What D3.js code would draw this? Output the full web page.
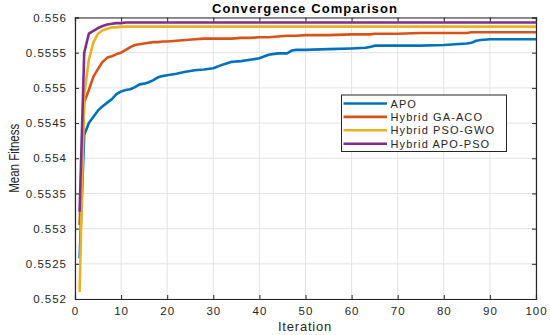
<!DOCTYPE html>
<html>
<head>
<meta charset="utf-8">
<script src="https://cdn.jsdelivr.net/npm/d3@7"></script>
<style>
  body { margin: 0; background: #fff; }
  svg { font-family: "Liberation Sans", Arial, sans-serif; }
</style>
</head>
<body>
<div id="container"></div>
<script>
// <---------data-------->
let iters = [1,2,3,4,5,6,7,8,9,10,11,12,13,14,15,16,17,18,19,20,22,24,26,28,30,32,34,36,38,40,42,44,46,47,48,50,55,60,63,64,65,70,75,80,85,86,87,88,90,95,100];

let apo = [0.55258,0.55433,0.55450,0.55459,0.55468,0.55474,0.55479,0.55484,0.55491,0.55495,0.55497,0.55498,0.55501,0.55505,0.55506,0.55508,0.55511,0.55515,0.55517,0.55518,
  0.55520,0.55523,0.55525,0.55526,0.55528,0.55533,0.55537,0.55538,0.55540,0.55542,0.55547,0.55549,0.55549,0.55553,0.55554,0.55554,0.55555,0.55556,0.55557,0.55558,
  0.55560,0.55560,0.55560,0.55561,0.55563,0.55564,0.55567,0.55568,0.55569,0.55569,0.55569];

let gaAco = [0.55305,0.55480,0.55497,0.55516,0.55527,0.55537,0.55543,0.55545,0.55548,0.55550,0.55554,0.55558,0.55561,0.55562,0.55563,0.55564,0.55565,0.55565,0.55566,0.55566,
  0.55567,0.55568,0.55569,0.55570,0.55570,0.55570,0.55570,0.55571,0.55571,0.55572,0.55572,0.55573,0.55574,0.55574,0.55574,0.55575,0.55575,0.55576,0.55576,0.55576,
  0.55577,0.55577,0.55578,0.55578,0.55578,0.55579,0.55579,0.55579,0.55579,0.55579,0.55579];

let psoGwo = [0.55210,0.55490,0.55540,0.55565,0.55577,0.55582,0.55584,0.55586,0.55586,0.55587,0.55587,0.55587,0.55587,0.55587,0.55587,0.55587,0.55587,0.55587,0.55587,0.55587,
  0.55587,0.55587,0.55587,0.55587,0.55587,0.55587,0.55587,0.55587,0.55587,0.55587,0.55587,0.55587,0.55587,0.55587,0.55587,0.55587,0.55587,0.55587,0.55587,0.55587,
  0.55587,0.55587,0.55587,0.55587,0.55587,0.55587,0.55587,0.55587,0.55587,0.55587,0.55587];

let apoPso = [0.55324,0.55550,0.55577,0.55581,0.55585,0.55588,0.55590,0.55591,0.55592,0.55592,0.55593,0.55593,0.55593,0.55593,0.55593,0.55593,0.55593,0.55593,0.55593,0.55593,
  0.55593,0.55593,0.55593,0.55593,0.55593,0.55593,0.55593,0.55593,0.55593,0.55593,0.55593,0.55593,0.55593,0.55593,0.55593,0.55593,0.55593,0.55593,0.55593,0.55593,
  0.55593,0.55593,0.55593,0.55593,0.55593,0.55593,0.55593,0.55593,0.55593,0.55593,0.55593];

let names = ["APO", "Hybrid GA-ACO", "Hybrid PSO-GWO", "Hybrid APO-PSO"];
let colors = ["#0072BD", "#D95319", "#EDB120", "#7E2F8E"];
let xTicks = [0,10,20,30,40,50,60,70,80,90,100];
let yTicks = [0.552,0.5525,0.553,0.5535,0.554,0.5545,0.555,0.5555,0.556];

// <---------the canvas-------->
let w = 550, h = 335;
let padL = 75, padR = 536, padT = 17.5, padB = 299;

let viz = d3.select("#container")
  .append("svg")
    .attr("width", w)
    .attr("height", h)
;

let x = d3.scaleLinear().domain([0, 100]).range([padL, padR]);
let y = d3.scaleLinear().domain([0.552, 0.556]).range([padB, padT]);

// grid
viz.append("g").selectAll("line").data(xTicks).enter()
  .append("line")
    .attr("x1", d => x(d)).attr("x2", d => x(d))
    .attr("y1", padT).attr("y2", padB)
    .attr("stroke", "#e3e3e3").attr("stroke-width", 1)
;
viz.append("g").selectAll("line").data(yTicks).enter()
  .append("line")
    .attr("x1", padL).attr("x2", padR)
    .attr("y1", d => y(d)).attr("y2", d => y(d))
    .attr("stroke", "#e3e3e3").attr("stroke-width", 1)
;

// lines
let series = [apo, gaAco, psoGwo, apoPso];
let line = d3.line()
  .x((d, i) => x(iters[i]))
  .y(d => y(d));

viz.append("g").selectAll("path").data(series).enter()
  .append("path")
    .attr("d", d => line(d))
    .attr("fill", "none")
    .attr("stroke", (d, i) => colors[i])
    .attr("stroke-width", 2.6)
    .attr("stroke-linejoin", "round")
;

// axes, ticks pointing inward like matlab
let fmt = d => d3.format("")(+d.toFixed(4));

let xAxis = viz.append("g")
  .attr("transform", "translate(0," + padB + ")")
  .call(d3.axisBottom(x).tickValues(xTicks).tickSize(-4).tickPadding(8).tickFormat(d3.format("d")));
let yAxis = viz.append("g")
  .attr("transform", "translate(" + padL + ",0)")
  .call(d3.axisLeft(y).tickValues(yTicks).tickSize(-4).tickPadding(8).tickFormat(fmt));
let xTop = viz.append("g")
  .attr("transform", "translate(0," + padT + ")")
  .call(d3.axisTop(x).tickValues(xTicks).tickSize(-4).tickFormat(""));
let yRight = viz.append("g")
  .attr("transform", "translate(" + padR + ",0)")
  .call(d3.axisRight(y).tickValues(yTicks).tickSize(-4).tickFormat(""));

[xAxis, yAxis, xTop, yRight].forEach(a => {
  a.select(".domain").attr("stroke", "#262626").attr("stroke-width", 1.2);
  a.selectAll(".tick line").attr("stroke", "#262626");
  a.selectAll("text").attr("fill", "#262626")
    .style("font-size", "11.5px").style("letter-spacing", "1px");
});

// labels
viz.append("text")
  .attr("x", 305).attr("y", 12.5)
  .attr("text-anchor", "middle")
  .style("font-size", "13px").style("font-weight", "bold").style("letter-spacing", "1.1px")
  .text("Convergence Comparison")
;
viz.append("text")
  .attr("x", 305).attr("y", 331)
  .attr("text-anchor", "middle")
  .style("font-size", "13px").style("letter-spacing", "0.8px").attr("fill", "#262626")
  .text("Iteration")
;
viz.append("text")
  .attr("transform", "translate(18.5," + ((padT + padB) / 2) + ") rotate(-90) scale(1,1.2)")
  .attr("text-anchor", "middle")
  .style("font-size", "11.5px").attr("fill", "#262626")
  .text("Mean Fitness")
;

// legend
let legend = viz.append("g").attr("transform", "translate(341.5,95)");
legend.append("rect")
  .attr("width", 165).attr("height", 56.5)
  .attr("fill", "white").attr("stroke", "#262626").attr("stroke-width", 1)
;
let entries = legend.selectAll(".entry").data(names).enter()
  .append("g")
    .attr("class", "entry")
    .attr("transform", (d, i) => "translate(0," + (8.5 + i * 13.4) + ")")
;
entries.append("line")
  .attr("x1", 2).attr("x2", 45.5)
  .attr("stroke", (d, i) => colors[i]).attr("stroke-width", 2.6)
;
entries.append("text")
  .attr("x", 49).attr("y", 4)
  .style("font-size", "11px").style("letter-spacing", "1.1px").attr("fill", "#262626")
  .text(d => d)
;
</script>
</body>
</html>
